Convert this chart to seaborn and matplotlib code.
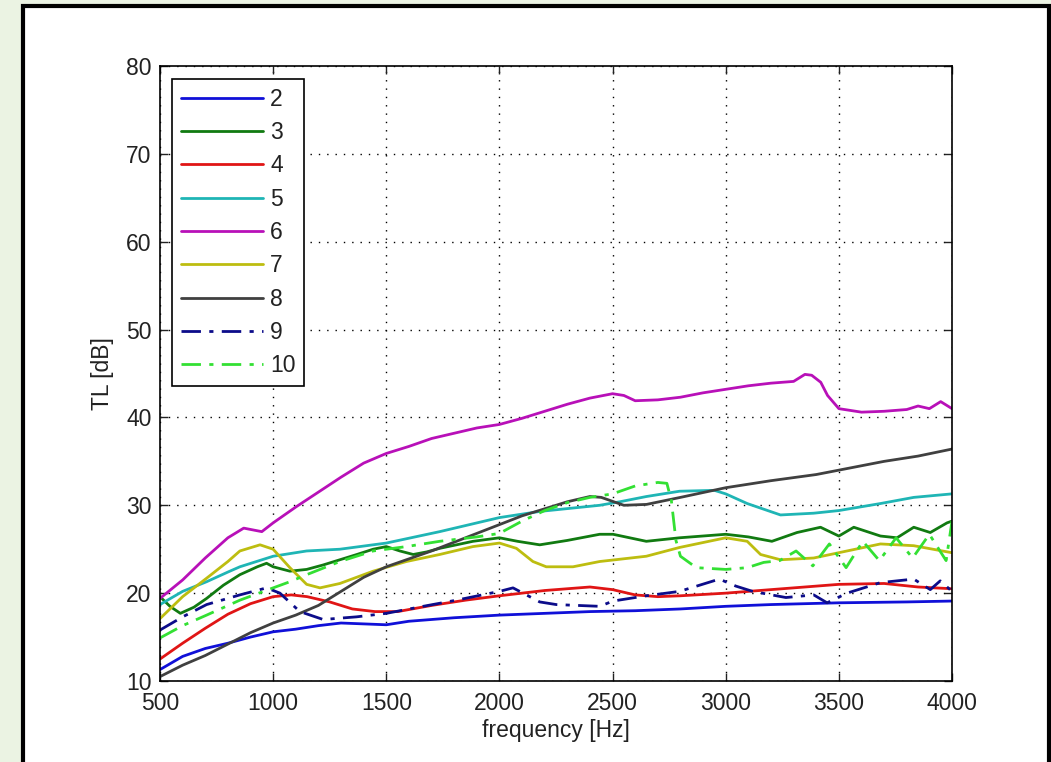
import matplotlib
matplotlib.use("Agg")
import matplotlib.pyplot as plt
from matplotlib.patches import Rectangle
import seaborn as sns
import pandas as pd

# ---------------- data ----------------
labels = ["2", "3", "4", "5", "6", "7", "8", "9", "10"]

f2 = [500, 600, 700, 800, 900, 1000, 1100, 1200, 1300, 1400, 1500, 1600, 1700, 1800,
      2000, 2200, 2400, 2600, 2800, 3000, 3200, 3500, 3800, 4000]
v2 = [11.3, 12.8, 13.7, 14.3, 15.0, 15.6, 15.9, 16.3, 16.6, 16.5, 16.4, 16.8, 17.0, 17.2,
      17.5, 17.7, 17.9, 18.0, 18.2, 18.5, 18.7, 18.9, 19.0, 19.1]

f3 = [500, 544, 590, 650, 706, 780, 853, 930, 971, 1000, 1074, 1148, 1220, 1295, 1370,
      1442, 1500, 1560, 1619, 1680, 1736, 1810, 1883, 2000, 2080, 2178, 2300, 2443, 2502,
      2649, 2796, 3000, 3100, 3204, 3315, 3419, 3500, 3566, 3684, 3757, 3831, 3904, 3978, 4000]
v3 = [19.6, 18.5, 17.7, 18.4, 19.4, 20.9, 22.1, 23.0, 23.4, 23.0, 22.5, 22.7, 23.2, 23.8, 24.4,
      25.0, 25.3, 24.8, 24.4, 24.7, 25.1, 25.5, 25.9, 26.3, 25.9, 25.5, 26.0, 26.7, 26.7,
      25.9, 26.3, 26.7, 26.4, 25.9, 26.9, 27.5, 26.5, 27.5, 26.5, 26.3, 27.5, 26.9, 28.0, 28.2]

f4 = [500, 600, 700, 800, 900, 1000, 1080, 1150, 1250, 1350, 1450, 1550, 1700, 1850, 2000,
      2200, 2400, 2500, 2600, 2700, 2800, 3000, 3200, 3400, 3500, 3700, 3850, 4000]
v4 = [12.5, 14.3, 16.0, 17.6, 18.8, 19.6, 19.8, 19.6, 19.0, 18.2, 17.9, 17.9, 18.6, 19.2, 19.7,
      20.3, 20.7, 20.4, 19.8, 19.6, 19.7, 20.0, 20.4, 20.8, 21.0, 21.1, 20.7, 20.5]

f5 = [500, 600, 706, 800, 853, 1000, 1148, 1295, 1500, 1736, 2000, 2178, 2443, 2532, 2650,
      2796, 2950, 3000, 3095, 3242, 3389, 3500, 3684, 3831, 4000]
v5 = [18.7, 20.2, 21.3, 22.4, 23.0, 24.2, 24.8, 25.0, 25.7, 27.0, 28.6, 29.3, 30.0, 30.4, 31.0,
      31.6, 31.7, 31.3, 30.2, 28.9, 29.1, 29.4, 30.2, 30.9, 31.3]

f6 = [500, 600, 700, 800, 870, 950, 1000, 1100, 1200, 1300, 1400, 1500, 1600, 1700, 1800,
      1900, 2000, 2100, 2200, 2300, 2400, 2500, 2550, 2600, 2700, 2800, 2900, 3000, 3100,
      3200, 3300, 3350, 3380, 3420, 3450, 3500, 3600, 3700, 3800, 3850, 3900, 3950, 4000]
v6 = [19.4, 21.5, 24.0, 26.3, 27.4, 27.0, 28.0, 29.8, 31.5, 33.2, 34.8, 35.9, 36.7, 37.6, 38.2,
      38.8, 39.2, 39.9, 40.7, 41.5, 42.2, 42.7, 42.5, 41.9, 42.0, 42.3, 42.8, 43.2, 43.6,
      43.9, 44.1, 44.9, 44.8, 44.0, 42.5, 41.0, 40.6, 40.7, 40.9, 41.3, 41.0, 41.8, 41.0]

f7 = [500, 600, 706, 800, 853, 942, 1000, 1074, 1148, 1207, 1295, 1442, 1589, 1736, 1883,
      2000, 2075, 2148, 2207, 2325, 2443, 2649, 2796, 3000, 3095, 3154, 3242, 3389, 3536,
      3684, 3831, 4000]
v7 = [17.1, 19.6, 21.7, 23.6, 24.8, 25.5, 25.0, 22.9, 21.0, 20.6, 21.1, 22.5, 23.6, 24.4, 25.3,
      25.7, 25.1, 23.6, 23.0, 23.0, 23.6, 24.2, 25.2, 26.3, 25.9, 24.4, 23.8, 24.0, 24.8,
      25.6, 25.4, 24.6]

f8 = [500, 600, 700, 800, 900, 1000, 1100, 1200, 1300, 1400, 1500, 1600, 1700, 1800, 1900,
      2000, 2100, 2200, 2300, 2400, 2450, 2550, 2650, 2800, 3000, 3200, 3400, 3500, 3700,
      3850, 4000]
v8 = [10.5, 11.8, 12.9, 14.2, 15.5, 16.6, 17.5, 18.6, 20.2, 21.8, 23.0, 23.9, 24.8, 25.8, 26.8,
      27.8, 28.8, 29.6, 30.4, 31.0, 30.9, 30.0, 30.1, 30.9, 32.0, 32.8, 33.5, 34.0, 35.0,
      35.6, 36.4]

f9 = [500, 600, 706, 853, 971, 1030, 1118, 1221, 1368, 1500, 1663, 1810, 2000, 2060, 2178,
      2251, 2443, 2502, 2649, 2796, 2972, 3045, 3119, 3266, 3389, 3448, 3536, 3684, 3831,
      3904, 3948, 4000]
v9 = [15.8, 17.3, 18.7, 19.8, 20.6, 20.0, 17.9, 17.0, 17.3, 17.7, 18.5, 19.2, 20.2, 20.6, 19.0,
      18.7, 18.5, 19.1, 19.7, 20.2, 21.6, 20.8, 20.2, 19.5, 19.8, 18.9, 20.0, 21.2, 21.6,
      20.4, 21.4, 20.2]

f10 = [500, 600, 706, 853, 1000, 1074, 1148, 1295, 1442, 1589, 1736, 1900, 2000, 2100, 2200,
       2300, 2400, 2500, 2600, 2700, 2740, 2760, 2780, 2800, 2870, 3000, 3095, 3168, 3238,
       3311, 3385, 3458, 3532, 3606, 3679, 3753, 3826, 3900, 3974, 4000]
v10 = [14.9, 16.3, 17.5, 19.2, 20.6, 21.3, 22.1, 23.6, 24.8, 25.3, 25.9, 26.4, 26.8, 28.2, 29.4,
       30.3, 30.9, 31.3, 32.2, 32.6, 32.5, 30.5, 26.0, 24.2, 22.9, 22.7, 22.9, 23.5, 23.7,
       24.8, 23.1, 25.6, 22.9, 25.9, 23.7, 26.3, 24.0, 26.7, 23.7, 28.2]

freqs = [f2, f3, f4, f5, f6, f7, f8, f9, f10]
values = [v2, v3, v4, v5, v6, v7, v8, v9, v10]

colors = ["#1010d8", "#117a11", "#e01515", "#1fb5b5", "#b810b8", "#bdbd10", "#404040",
          "#0c0c8a", "#33e033"]
dashdot = (0, (7, 3, 1.5, 3))
styles = ["-", "-", "-", "-", "-", "-", "-", dashdot, dashdot]

xticks = [500, 1000, 1500, 2000, 2500, 3000, 3500, 4000]
yticks = [10, 20, 30, 40, 50, 60, 70, 80]

# ---------------- style ----------------
sns.set_theme(style="white")
plt.rcParams["font.family"] = ["Liberation Sans", "DejaVu Sans"]

W, H = 1051, 762
FS = 16.5
fig = plt.figure(figsize=(W / 100, H / 100), dpi=100)
fig.patch.set_facecolor("#ebf3e3")

# black framed white panel (drawn beneath the axes)
frame = Rectangle((23 / W, -0.05), (1049 - 23) / W, (H - 6) / H + 0.05,
                  transform=fig.transFigure, facecolor="white",
                  edgecolor="black", linewidth=3.0, zorder=-10)
fig.add_artist(frame)

ax = fig.add_axes([160 / W, (H - 681) / H, (952 - 160) / W, (681 - 66) / H])
ax.set_zorder(5)
ax.set_facecolor("white")

for lab, fx, vy, c, ls in zip(labels, freqs, values, colors, styles):
    df = pd.DataFrame({"f": fx, "v": vy})
    sns.lineplot(data=df, x="f", y="v", ax=ax, color=c, linestyle=ls,
                 linewidth=2.0, label=lab, estimator=None, sort=False)

ax.set_xlim(500, 4000)
ax.set_ylim(10, 80)
ax.set_xticks(xticks)
ax.set_yticks(yticks)
ax.set_xticklabels([str(t) for t in xticks])
ax.set_yticklabels([str(t) for t in yticks])

ax.grid(True, color="black", linestyle=(0, (1, 5)), linewidth=1.0)
ax.set_axisbelow(True)
for s in ax.spines.values():
    s.set_visible(True)
    s.set_color("black")
    s.set_linewidth(1.2)

ax.tick_params(axis="both", which="both", direction="in", length=6, width=1.0,
               colors="#222222", labelsize=FS,
               top=True, right=True, bottom=True, left=True)
ax.tick_params(axis="x", pad=8)
ax.tick_params(axis="y", pad=6)

ax.set_xlabel("frequency [Hz]", fontsize=FS, labelpad=3, color="#222222")
ax.set_ylabel("TL [dB]", fontsize=FS, labelpad=9, color="#222222")

leg = ax.legend(loc="upper left", bbox_to_anchor=((172 - 160) / 792, (681 - 79) / 615),
                borderaxespad=0, fontsize=FS, frameon=True, fancybox=False,
                framealpha=1, edgecolor="black", handlelength=3.6, handletextpad=0.3,
                labelspacing=0.45, borderpad=0.38)
leg.get_frame().set_linewidth(1.2)
for t in leg.get_texts():
    t.set_color("#222222")

fig.savefig("out.png", dpi=100, facecolor=fig.get_facecolor())
